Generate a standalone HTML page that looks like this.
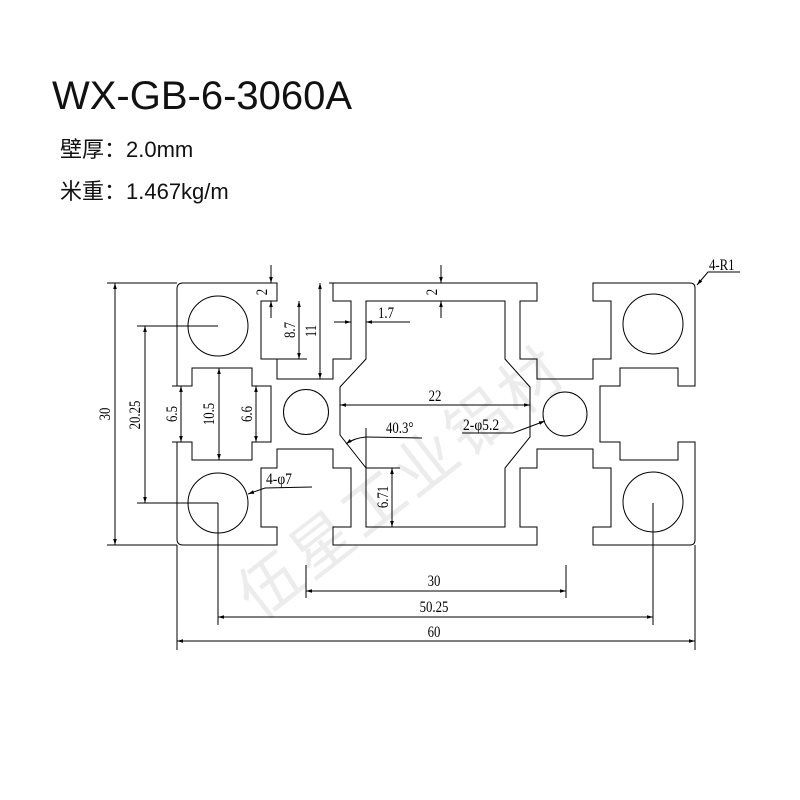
<!DOCTYPE html>
<html><head><meta charset="utf-8"><style>
html,body{margin:0;padding:0;background:#fff;}
body{width:800px;height:800px;position:relative;overflow:hidden;font-family:"Liberation Sans","Noto Sans CJK SC",sans-serif;}
.t{position:absolute;color:#111;white-space:nowrap;}
</style></head><body>
<div class="t" style="left:52px;top:74px;font-size:40px;letter-spacing:0px;">WX-GB-6-3060A</div>
<div class="t" style="left:60px;top:132px;font-size:22px;">壁厚：2.0mm</div>
<div class="t" style="left:60px;top:174px;font-size:22px;">米重：1.467kg/m</div>
<svg width="800" height="800" style="position:absolute;left:0;top:0" xmlns="http://www.w3.org/2000/svg">
<defs><marker id="a" viewBox="0 0 10 10" refX="10" refY="5" markerWidth="8" markerHeight="6" orient="auto-start-reverse"><path d="M0,2 L10,5 L0,8 Z" fill="#000"/></marker></defs>
<g font-family="Liberation Sans, Noto Sans CJK SC, sans-serif" font-size="62" fill="#ececec" transform="rotate(-38 420 470)">
<text x="200" y="490" letter-spacing="4">伍星工业铝材</text></g>
<g fill="none" stroke="#000" stroke-width="1">
<path d="M183,283 L277,283 L277,301 L261,301 L261,359 L277,359 L277,379 L333,379 L333,359 L351,359 L351,301 L333,301 L333,283 L537,283 L537,301 L520,301 L520,359 L537,359 L537,379 L593,379 L593,359 L611,359 L611,301 L593,301 L593,283 L690,283 Q695,283 695,288 L695,386 L678,386 L678,368 L620,368 L620,386 L600,386 L600,442 L620,442 L620,460 L678,460 L678,442 L695,442 L695,540 Q695,545 690,545 L593,545 L593,527 L611,527 L611,468 L593,468 L593,449 L537,449 L537,468 L520,468 L520,527 L537,527 L537,545 L333,545 L333,527 L351,527 L351,468 L333,468 L333,449 L277,449 L277,468 L261,468 L261,527 L277,527 L277,545 L183,545 Q177,545 177,539 L177,442 L192,442 L192,460 L252,460 L252,442 L271,442 L271,386 L252,386 L252,368 L192,368 L192,386 L177,386 L177,289 Q177,283 183,283 Z"/>
<path d="M366,301 L505,301 L505,359 L530,387 L530,437 L505,468 L505,527 L366,527 L366,468 L340,435 L340,387 L366,359 Z"/>
<circle cx="218" cy="326" r="30"/><circle cx="218" cy="503" r="30"/>
<circle cx="653" cy="324" r="30"/><circle cx="653" cy="502" r="30"/>
<circle cx="306" cy="412" r="22.5"/><circle cx="565" cy="414" r="22"/>
<line x1="107" y1="283" x2="177" y2="283"/><line x1="107" y1="545" x2="177" y2="545"/>
<line x1="115" y1="283" x2="115" y2="545" marker-start="url(#a)" marker-end="url(#a)"/>
<line x1="137" y1="326" x2="218" y2="326"/><line x1="137" y1="503" x2="218" y2="503"/>
<line x1="145" y1="326" x2="145" y2="503" marker-start="url(#a)" marker-end="url(#a)"/>
<line x1="172" y1="386" x2="192" y2="386"/><line x1="172" y1="442" x2="192" y2="442"/>
<line x1="181" y1="386" x2="181" y2="442" marker-start="url(#a)" marker-end="url(#a)"/>
<line x1="219" y1="368" x2="219" y2="460" marker-start="url(#a)" marker-end="url(#a)"/>
<line x1="256" y1="386" x2="256" y2="442" marker-start="url(#a)" marker-end="url(#a)"/>
<line x1="271" y1="265" x2="271" y2="283" marker-end="url(#a)"/>
<line x1="271" y1="318" x2="271" y2="301" marker-end="url(#a)"/>
<line x1="261" y1="359" x2="307" y2="359"/>
<line x1="299" y1="301" x2="299" y2="359" marker-start="url(#a)" marker-end="url(#a)"/>
<line x1="333" y1="283" x2="329" y2="283"/>
<line x1="320" y1="283" x2="320" y2="379" marker-start="url(#a)" marker-end="url(#a)"/>
<line x1="334" y1="322" x2="351" y2="322" marker-end="url(#a)"/>
<line x1="410" y1="322" x2="366" y2="322" marker-end="url(#a)"/>
<line x1="441" y1="265" x2="441" y2="283" marker-end="url(#a)"/>
<line x1="441" y1="318" x2="441" y2="301" marker-end="url(#a)"/>
<line x1="430" y1="301" x2="452" y2="301"/>
<line x1="340" y1="405" x2="530" y2="405" marker-start="url(#a)" marker-end="url(#a)"/>
<line x1="366" y1="428" x2="366" y2="468"/>
<line x1="366" y1="437" x2="422" y2="438"/>
<path d="M366,437 Q354,438 346,444" marker-end="url(#a)"/>
<line x1="366" y1="468" x2="400" y2="468"/>
<line x1="392" y1="468" x2="392" y2="527" marker-start="url(#a)" marker-end="url(#a)"/>
<polyline points="462,433 513,433 545,421" marker-end="url(#a)"/>
<polyline points="312,487 265,488 248,494" marker-end="url(#a)"/>
<polyline points="740,272 708,272 697,285" marker-end="url(#a)"/>
<line x1="306" y1="565" x2="306" y2="598"/><line x1="566" y1="565" x2="566" y2="598"/>
<line x1="306" y1="591" x2="566" y2="591" marker-start="url(#a)" marker-end="url(#a)"/>
<line x1="218" y1="503" x2="218" y2="625"/><line x1="653" y1="503" x2="653" y2="625"/>
<line x1="218" y1="617" x2="653" y2="617" marker-start="url(#a)" marker-end="url(#a)"/>
<line x1="177" y1="545" x2="177" y2="650"/><line x1="695" y1="545" x2="695" y2="650"/>
<line x1="177" y1="641" x2="695" y2="641" marker-start="url(#a)" marker-end="url(#a)"/>
</g>
<g font-family="Liberation Serif, serif" font-size="16" fill="#000">
<text transform="translate(110,414) rotate(-90) scale(0.8,1)" text-anchor="middle">30</text>
<text transform="translate(140,415) rotate(-90) scale(0.8,1)" text-anchor="middle">20.25</text>
<text transform="translate(177,414) rotate(-90) scale(0.8,1)" text-anchor="middle">6.5</text>
<text transform="translate(214,414) rotate(-90) scale(0.8,1)" text-anchor="middle">10.5</text>
<text transform="translate(252,414) rotate(-90) scale(0.8,1)" text-anchor="middle">6.6</text>
<text transform="translate(267,292) rotate(-90) scale(0.8,1)" text-anchor="middle">2</text>
<text transform="translate(295,330) rotate(-90) scale(0.8,1)" text-anchor="middle">8.7</text>
<text transform="translate(316,331) rotate(-90) scale(0.8,1)" text-anchor="middle">11</text>
<text transform="translate(437,292) rotate(-90) scale(0.8,1)" text-anchor="middle">2</text>
<text transform="translate(388,497) rotate(-90) scale(0.8,1)" text-anchor="middle">6.71</text>
<text transform="translate(378,318) scale(0.8,1)">1.7</text>
<text transform="translate(435,401) scale(0.8,1)" text-anchor="middle">22</text>
<text transform="translate(386,433) scale(0.8,1)">40.3°</text>
<text transform="translate(463,430) scale(0.85,1)">2-φ5.2</text>
<text transform="translate(266,484) scale(0.85,1)">4-φ7</text>
<text transform="translate(709,270) scale(0.8,1)">4-R1</text>
<text transform="translate(434,586) scale(0.8,1)" text-anchor="middle">30</text>
<text transform="translate(434,612) scale(0.8,1)" text-anchor="middle">50.25</text>
<text transform="translate(434,637) scale(0.8,1)" text-anchor="middle">60</text>
</g>
</svg>
</body></html>
